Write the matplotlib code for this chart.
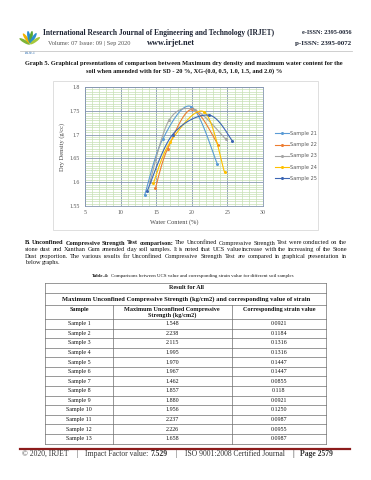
import numpy as np
import matplotlib
matplotlib.use("Agg")
import matplotlib.pyplot as plt
from matplotlib.lines import Line2D
from matplotlib.patches import Rectangle, Ellipse
from matplotlib.ticker import MultipleLocator, FuncFormatter

# ---------- page data ----------
W, H, DPI = 371, 480, 100
SERIF = "Liberation Serif"
INK = "#151515"

journal = "International Research Journal of Engineering and Technology (IRJET)"
eissn = "e-ISSN: 2395-0056"
pissn = "p-ISSN: 2395-0072"
issue = "Volume: 07 Issue: 09 | Sep 2020"
site = "www.irjet.net"

caption1 = "Graph 5. Graphical presentations of comparison between Maximum dry density and maximum water content for the"
caption2 = "soil when amended with for SD - 20 %, XG-(0.0, 0.5, 1.0, 1.5, and 2.0) %"

# chart data
series_names = ["Sample 21", "Sample 22", "Sample 23", "Sample 24", "Sample 25"]
series_colors = ["#5b9bd5", "#ed7d31", "#a5a5a5", "#ffc000", "#3c66b4"]
water = [
    [13.4, 15.9, 19.9, 23.6],
    [14.9, 16.6, 20.0, 23.7],
    [14.1, 16.8, 20.4, 24.75],
    [14.6, 17.0, 21.7, 24.6],
    [13.75, 17.3, 22.4, 25.7],
]
density = [
    [1.574, 1.690, 1.759, 1.638],
    [1.588, 1.670, 1.753, 1.679],
    [1.600, 1.730, 1.752, 1.691],
    [1.598, 1.685, 1.748, 1.621],
    [1.582, 1.700, 1.741, 1.687],
]

para_bold = "B. Unconfined Compressive Strength Test comparison:"
para_lines = [
    "The Unconfined Compressive Strength Test were conducted on the",
    "stone dust and Xanthan Gum amended clay soil samples. It is noted that UCS value increase with the increasing of the Stone",
    "Dust proportion. The various results for Unconfined Compressive Strength Test are compared in graphical presentation in",
    "below graphs.",
]
table_label = "Table-4:"
table_title = "Comparisons between UCS value and corresponding strain value for different soil samples"

samples = ["Sample %d" % i for i in range(1, 14)]
ucs = ["1.548", "2.238", "2.115", "1.995", "1.970", "1.967", "1.462",
       "1.857", "1.880", "1.956", "2.237", "2.226", "1.658"]
strain = ["0.0921", "0.1184", "0.1316", "0.1316", "0.1447", "0.1447", "0.0855",
          "0.118", "0.0921", "0.1250", "0.0987", "0.0955", "0.0987"]

fig = plt.figure(figsize=(W / DPI, H / DPI), dpi=DPI)
fig.patch.set_facecolor("white")
R = fig.canvas.get_renderer()


def fy(y):
    return 1 - y / H


def runs(y, x0, parts, size, x1=None, color=INK):
    # parts: (text, weight, spaces before); optional x1 scales the run to fit
    def layout(sz):
        arts = [fig.text(0, fy(y), s, fontsize=sz, fontweight=wt, family=SERIF,
                         color=color, va="center") for s, wt, _ in parts]
        ws = [a.get_window_extent(R).width for a in arts]
        sp = sz * 0.25 * DPI / 72
        return arts, ws, sp, sum(ws) + sum(p[2] for p in parts) * sp
    arts, ws, sp, total = layout(size)
    if x1 is not None:
        for a in arts:
            a.remove()
        arts, ws, sp, total = layout(size * (x1 - x0) / total)
    x = x0
    for a, w, p in zip(arts, ws, parts):
        x += p[2] * sp
        a.set_x(x / W)
        x += w


def fit(s, x0, x1, y, weight="normal", color=INK):
    runs(y, x0, [(s, weight, 0)], 5, x1, color)


def justify(y, x0, x1, words, size, last=False):
    arts = [fig.text(0, fy(y), w, fontsize=size, fontweight=wt, family=SERIF,
                     color=INK, va="center") for w, wt in words]
    widths = [a.get_window_extent(R).width for a in arts]
    gap = size * 0.25 * DPI / 72 if last else (x1 - x0 - sum(widths)) / (len(arts) - 1)
    x = x0
    for a, wd in zip(arts, widths):
        a.set_x(x / W)
        x += wd + gap


# ---------- header ----------
logo = fig.add_axes([19 / W, fy(56), 22 / W, 32 / H])
logo.set_xlim(0, 1)
logo.set_ylim(0, 1.45)
logo.axis("off")
for ang, c in zip([150, 125, 100, 80, 58, 35], ["#7fb539", "#f0b400", "#2b8fd0", "#5aa832", "#2b8fd0", "#a6c83c"]):
    a = np.deg2rad(ang)
    logo.add_patch(Ellipse((0.5 + 0.28 * np.cos(a), 0.45 + 0.42 * np.sin(a)), 0.14, 0.55,
                           angle=ang - 90, color=c, lw=0))
logo.text(0.5, 0.12, "IRJET", ha="center", va="center", fontsize=3.2, color="#2b6cb0", family=SERIF)

NAVY = "#1c2333"
fit(journal, 43, 278, 33, "bold", NAVY)
fit(eissn, 302, 352, 33, "bold", NAVY)
fit(issue, 48, 130, 43, color="#555555")
fit(site, 147, 195, 43, "bold", NAVY)
fit(pissn, 295, 352, 43, "bold", NAVY)
fig.add_artist(Line2D([20 / W, 352 / W], [fy(51), fy(51)], color="#c8c8c8", lw=0.6))

fit(caption1, 25, 345, 64, "bold")
fit(caption2, 86, 284, 71, "bold")

# ---------- chart ----------
fig.add_artist(Rectangle((53 / W, fy(230)), 265 / W, 149 / H, transform=fig.transFigure,
                         fill=False, edgecolor="#d9d9d9", lw=0.6))
ax = fig.add_axes([85 / W, fy(206), 178 / W, 119 / H])
ax.set_xlim(5, 30)
ax.set_ylim(1.55, 1.8)
ax.xaxis.set_major_locator(MultipleLocator(5))
ax.yaxis.set_major_locator(MultipleLocator(0.05))
ax.xaxis.set_minor_locator(MultipleLocator(1))
ax.yaxis.set_minor_locator(MultipleLocator(0.005))
ax.grid(which="minor", color="#c6e0b4", lw=0.5)
ax.grid(which="major", color="#8496b0", lw=0.6)
ax.set_axisbelow(True)
for sp in ax.spines.values():
    sp.set_color("#8496b0")
    sp.set_linewidth(0.6)
ax.tick_params(which="both", length=0)
ax.tick_params(axis="y", pad=4, labelsize=4.2, labelcolor="#555555")
ax.tick_params(axis="x", pad=3, labelsize=4.2, labelcolor="#555555")
ax.yaxis.set_major_formatter(FuncFormatter(lambda v, _: "%g" % round(v, 2)))
for lab in ax.get_xticklabels() + ax.get_yticklabels():
    lab.set_family(SERIF)
ax.set_xlabel("Water Content (%)", fontsize=4.6, family=SERIF, color="#444444")
ax.set_ylabel("Dry Density (g/cc)", fontsize=4.6, family=SERIF, color="#444444")
ax.xaxis.set_label_coords(0.5, -0.11)
ax.yaxis.set_label_coords(-0.115, 0.5)


def smooth(xs, ys, n=40):
    # Excel style smoothed line, built in pixel space
    sx, sy = 178 / 25, 119 / 0.25
    P = np.column_stack([np.array(xs) * sx, np.array(ys) * sy])
    P = np.vstack([P[0], P, P[-1]])
    t = np.linspace(0, 1, n)[:, None]
    segs = []
    for i in range(1, len(P) - 2):
        p0, p1, p2, p3 = P[i - 1], P[i], P[i + 1], P[i + 2]
        c1 = p1 + (p2 - p0) / 6
        c2 = p2 - (p3 - p1) / 6
        segs.append((1 - t) ** 3 * p1 + 3 * (1 - t) ** 2 * t * c1 + 3 * (1 - t) * t ** 2 * c2 + t ** 3 * p2)
    C = np.vstack(segs)
    return C[:, 0] / sx, C[:, 1] / sy


handles = []
for name, col, xs, ys in zip(series_names, series_colors, water, density):
    cx, cy = smooth(xs, ys)
    ax.plot(cx, cy, color=col, lw=0.8)
    ax.plot(xs, ys, "o", color=col, ms=2.2, mew=0)
    handles.append(Line2D([], [], color=col, lw=0.8, marker="o", ms=2.2, mew=0, label=name))

leg = fig.legend(handles=handles, loc="center left", bbox_to_anchor=(272 / W, fy(156)),
                 frameon=False, fontsize=3.6, handlelength=2.8, handletextpad=0.4,
                 labelspacing=1.25, borderpad=0)
for txt in leg.get_texts():
    txt.set_color("#595959")

# ---------- paragraph ----------
probe = fig.text(0, 0, para_lines[1], fontsize=5, family=SERIF)
size_p = 5 * 320 / probe.get_window_extent(R).width
probe.remove()
first = [(w, "bold") for w in para_bold.split()] + [(w, "normal") for w in para_lines[0].split()]
justify(243, 25, 347, first, size_p)
justify(249.6, 25, 347, [(w, "normal") for w in para_lines[1].split()], size_p)
justify(256.2, 25, 347, [(w, "normal") for w in para_lines[2].split()], size_p)
justify(262.8, 25, 347, [(w, "normal") for w in para_lines[3].split()], size_p, last=True)

runs(276, 92, [(table_label, "bold", 0), (table_title, "normal", 1)], 5, x1=292)

# ---------- table ----------
xl, xa, xb, xr = 45, 113, 232, 326
row_top = 319
row_h = (443.5 - row_top) / 13
lc = "#6e6e6e"


def hline(y, x0=xl, x1=xr):
    fig.add_artist(Line2D([x0 / W, x1 / W], [fy(y), fy(y)], color=lc, lw=0.5))


def vline(x, y0, y1):
    fig.add_artist(Line2D([x / W, x / W], [fy(y0), fy(y1)], color=lc, lw=0.5))


for y in [283, 292.5, 305]:
    hline(y)
for i in range(14):
    hline(row_top + i * row_h)
vline(xl, 283, 443.5)
vline(xr, 283, 443.5)
vline(xa, 305, 443.5)
vline(xb, 305, 443.5)

cell = dict(family=SERIF, color=INK, ha="center", va="center")
fig.text(186 / W, fy(287.8), "Result for All", fontsize=4.4, fontweight="bold", **cell)
fit("Maximum Unconfined Compressive Strength (kg/cm2) and corresponding value of strain",
    62, 310, 299.5, "bold")
fig.text(79 / W, fy(310), "Sample", fontsize=4.4, fontweight="bold", **cell)
fig.text(172 / W, fy(310), "Maximum Unconfined Compressive", fontsize=4.4, fontweight="bold", **cell)
fig.text(172 / W, fy(315.5), "Strength (kg/cm2)", fontsize=4.4, fontweight="bold", **cell)
fig.text(279 / W, fy(310), "Corresponding strain value", fontsize=4.4, fontweight="bold", **cell)
for i, (s, u, e) in enumerate(zip(samples, ucs, strain)):
    yc = row_top + (i + 0.5) * row_h
    fig.text(79 / W, fy(yc), s, fontsize=4.3, **cell)
    fig.text(172 / W, fy(yc), u, fontsize=4.3, **cell)
    fig.text(279 / W, fy(yc), e, fontsize=4.3, **cell)

# ---------- footer ----------
fig.add_artist(Line2D([20 / W, 350 / W], [fy(448.5), fy(448.5)], color="#8c1c1c", lw=1.6))
foot = [("\u00a9 2020, IRJET", "normal", 0), ("|", "normal", 4), ("Impact Factor value:", "normal", 4),
        ("7.529", "bold", 1), ("|", "normal", 4), ("ISO 9001:2008 Certified Journal", "normal", 4),
        ("|", "bold", 4), ("Page 2579", "bold", 3)]
runs(454, 22, foot, 5, x1=336, color="#333333")

fig.savefig("out.png", dpi=DPI, facecolor="white")
